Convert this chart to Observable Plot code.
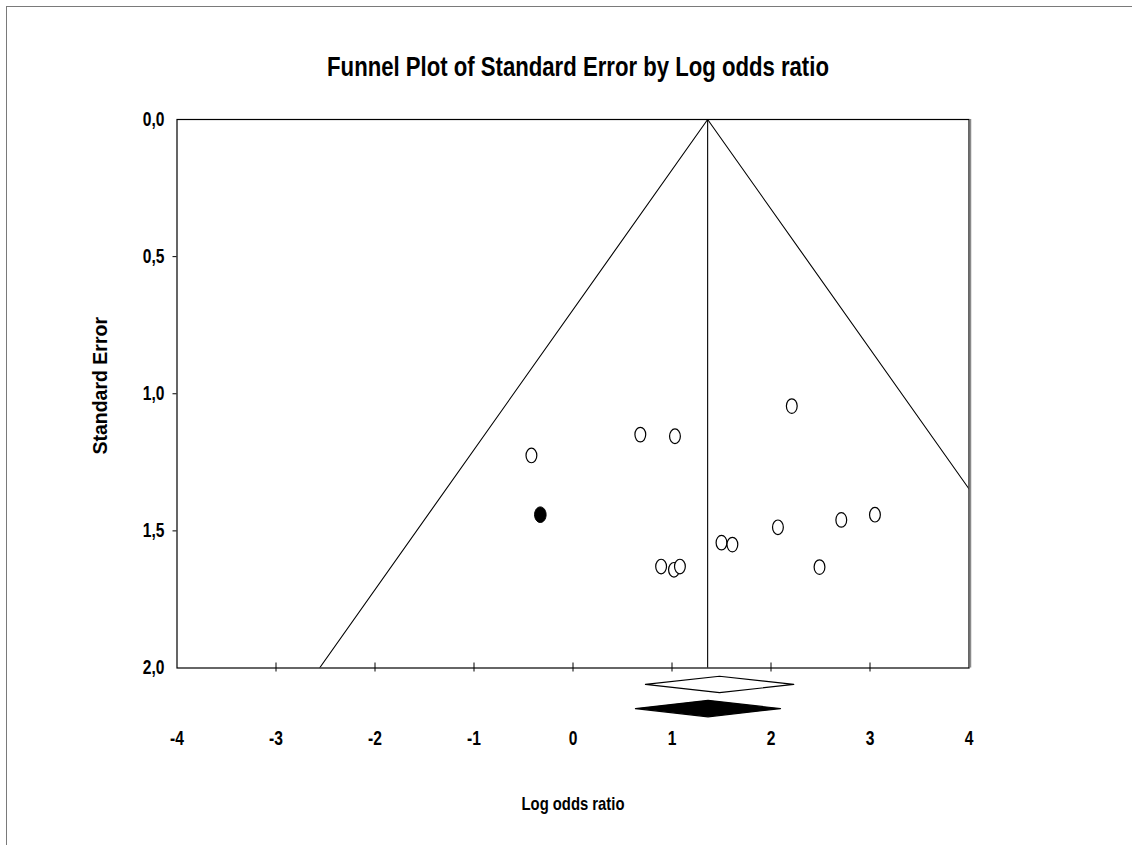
<!DOCTYPE html>
<html>
<head>
<meta charset="utf-8">
<script src="https://cdn.jsdelivr.net/npm/d3@7"></script>
<script src="https://cdn.jsdelivr.net/npm/@observablehq/plot@0.6"></script>
<style>
  html, body { margin: 0; padding: 0; background: #fff; }
  #wrap { position: relative; width: 1132px; height: 845px; overflow: hidden; background: #fff; }
  #border { position: absolute; left: 6px; top: 6px; right: -10px; bottom: -10px;
            border-top: 1.5px solid #7a7a7a; border-left: 1.5px solid #7a7a7a; pointer-events: none; }
  #chart { position: absolute; left: 0; top: 0; }
</style>
</head>
<body>
<div id="wrap"><div id="chart"></div><div id="border"></div></div>
<script>
// ---------- data ----------
const titleText = "Funnel Plot of Standard Error by Log odds ratio";
const xLabel = "Log odds ratio";
const yLabel = "Standard Error";

// observed studies (open circles)
const studyLogOR = [-0.42, 0.68, 1.03, 2.21, 0.89, 1.02, 1.08, 1.50, 1.61, 2.07, 2.49, 2.71, 3.05];
const studySE    = [1.225, 1.149, 1.155, 1.045, 1.630, 1.642, 1.630, 1.543, 1.550, 1.487, 1.632, 1.460, 1.441];

// imputed study (filled circle)
const imputedLogOR = [-0.33];
const imputedSE    = [1.441];

// pooled estimates (diamonds)
const pooledLabels   = ["Observed", "Adjusted"];
const pooledEstimate = [1.48, 1.364];
const pooledLower    = [0.732, 0.631];
const pooledUpper    = [2.23, 2.096];

// funnel
const funnelCenter = 1.36;
const funnelZ = 1.96;
const seMax = 2;

const xTicks = [-4, -3, -2, -1, 0, 1, 2, 3, 4];
const yTicks = [0, 0.5, 1, 1.5, 2];

// ---------- layout ----------
const W = 1132, H = 845;
const MT = 119, MB = 177.5, ML = 176.5, MR = 163.5;
const bodyFont = "'Liberation Sans', Arial, sans-serif";
const titleFactor = 0.82, labelFactor = 0.78;
const diamondRows = [2.06, 2.148];   // vertical placement below the axis (SE units)
const diamondHalf = 0.03;

// ---------- derived tables ----------
const studies = studyLogOR.map((x, i) => ({x, se: studySE[i]}));
const imputed = imputedLogOR.map((x, i) => ({x, se: imputedSE[i]}));
const funnel = [
  {x: funnelCenter - funnelZ * seMax, se: seMax},
  {x: funnelCenter, se: 0},
  {x: funnelCenter + funnelZ * seMax, se: seMax}
];
function diamond(i) {
  const r = diamondRows[i], e = pooledEstimate[i];
  return [
    {x: pooledLower[i], se: r},
    {x: e, se: r - diamondHalf},
    {x: pooledUpper[i], se: r},
    {x: e, se: r + diamondHalf},
    {x: pooledLower[i], se: r}
  ];
}

const ellipse = {
  draw(ctx, size) {
    const ry = Math.sqrt(size / Math.PI), rx = ry * 0.74, k = 0.5523;
    ctx.moveTo(rx, 0);
    ctx.bezierCurveTo(rx, k * ry, k * rx, ry, 0, ry);
    ctx.bezierCurveTo(-k * rx, ry, -rx, k * ry, -rx, 0);
    ctx.bezierCurveTo(-rx, -k * ry, -k * rx, -ry, 0, -ry);
    ctx.bezierCurveTo(k * rx, -ry, rx, -k * ry, rx, 0);
    ctx.closePath();
  }
};

const commaFmt = d => d3.format(".1f")(d).replace(".", ",");

const chart = Plot.plot({
  width: W, height: H,
  marginTop: MT, marginBottom: MB, marginLeft: ML, marginRight: MR,
  style: {fontFamily: bodyFont, fontSize: "20px", fontWeight: "bold", color: "black", background: "white", overflow: "visible"},
  x: {domain: [xTicks[0], xTicks[xTicks.length - 1]], label: null},
  y: {domain: [yTicks[0], yTicks[yTicks.length - 1]], reverse: true, label: null},
  marks: [
    // funnel and center line
    Plot.line(funnel, {x: "x", y: "se", stroke: "black", strokeWidth: 1.1, clip: true}),
    Plot.ruleX([funnelCenter], {stroke: "black", strokeWidth: 1.1}),
    // frame
    Plot.frame({stroke: "black", strokeWidth: 1.2}),
    Plot.ruleX([xTicks[xTicks.length - 1]], {stroke: "#8a8a8a", strokeWidth: 1.5, dx: 1.5}),
    // axes
    Plot.axisY({ticks: yTicks, tickFormat: commaFmt, tickSize: 0, tickPadding: 12.5, fontSize: 20, fontWeight: "bold", label: null}),
    Plot.axisY({ticks: yTicks.slice(1, -1), tickSize: 4, text: null, stroke: "black", label: null}),
    Plot.axisX({ticks: xTicks, tickFormat: d => String(d), tickSize: 0, tickPadding: 63, fontSize: 20, fontWeight: "bold", label: null}),
    Plot.ruleX(xTicks.slice(1, -1), {stroke: "black", strokeWidth: 1, insetTop: H - MT - MB - 5, insetBottom: -4}),
    // studies
    Plot.dot(studies, {x: "x", y: "se", symbol: ellipse, r: 7.3, stroke: "black", strokeWidth: 1.2, fill: "white"}),
    Plot.dot(imputed, {x: "x", y: "se", symbol: ellipse, r: 7.8, stroke: "black", strokeWidth: 1, fill: "black"}),
    // diamonds
    Plot.line(diamond(0), {x: "x", y: "se", stroke: "black", strokeWidth: 1.2, fill: "white"}),
    Plot.line(diamond(1), {x: "x", y: "se", stroke: "black", strokeWidth: 1.2, fill: "black"}),
    // texts
    Plot.text([titleText], {frameAnchor: "top", dx: 5, dy: -52, lineAnchor: "middle", fontSize: 27, fontWeight: "bold"}),
    Plot.text([xLabel], {frameAnchor: "bottom", dy: 135.5, lineAnchor: "middle", fontSize: 19, fontWeight: "bold"}),
    Plot.text([yLabel], {frameAnchor: "left", dx: -76.5, dy: -8, rotate: -90, textAnchor: "middle", lineAnchor: "middle", fontSize: 19.5, fontWeight: "bold"})
  ]
});
document.getElementById("chart").appendChild(chart);

// condense horizontal texts (narrow bold face of the original)
chart.querySelectorAll("text").forEach(t => {
  if (t.textContent === yLabel) return;
  const f = t.textContent === titleText ? titleFactor : labelFactor;
  const len = t.getComputedTextLength();
  if (len > 0) {
    t.setAttribute("textLength", (len * f).toFixed(2));
    t.setAttribute("lengthAdjust", "spacingAndGlyphs");
  }
});
</script>
</body>
</html>
